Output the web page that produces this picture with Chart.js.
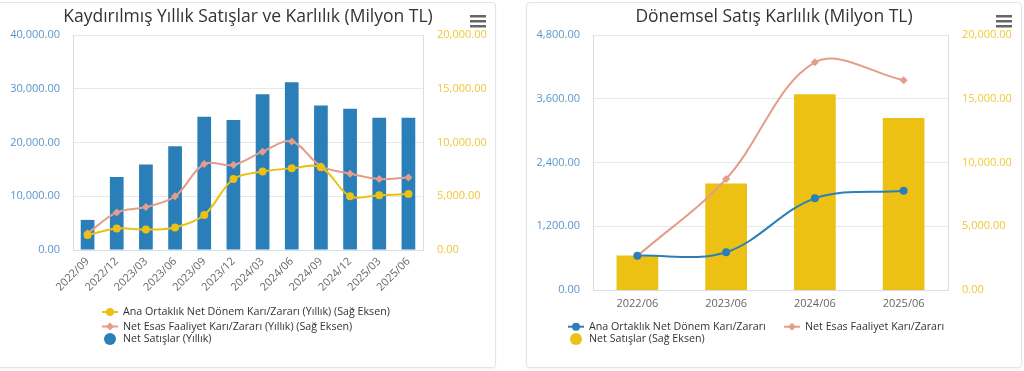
<!DOCTYPE html>
<html>
<head>
<meta charset="utf-8">
<script src="https://cdn.jsdelivr.net/npm/chart.js@4/dist/chart.umd.min.js"></script>
<style>
    html, body { margin: 0; padding: 0; background: #fff; width: 1024px; height: 371px; overflow: hidden; }
    .panel { position: absolute; top: 2px; height: 364px; border: 1px solid #e4e4e4; border-radius: 4px; box-shadow: 0 1px 2px rgba(0, 0, 0, 0.06); background: #fff; }
    #panelLeft { left: -3px; width: 497px; }
    #panelRight { left: 526px; width: 494px; }
    canvas { position: absolute; top: 0; }
    #salesTtmChart { left: 0; }
    #salesYearChart { left: 524px; }
</style>
</head>
<body>
<div class="panel" id="panelLeft"></div>
<div class="panel" id="panelRight"></div>
<canvas id="salesTtmChart" width="496" height="371"></canvas>
<canvas id="salesYearChart" width="500" height="371"></canvas>
<script>
// Kaydırılmış yıllık (TTM) veriler, milyon TL
var quarterLabels = [ '2022/09', '2022/12', '2023/03', '2023/06', '2023/09', '2023/12', '2024/03', '2024/06', '2024/09', '2024/12', '2025/03', '2025/06' ];
var netSalesTtm = [ 5600, 13600, 15900, 19300, 24800, 24200, 29000, 31200, 26900, 26300, 24600, 24600 ];
var netProfitTtm = [ 1400, 2000, 1900, 2100, 3250, 6600, 7300, 7600, 7700, 5000, 5100, 5200 ];
var operatingProfitTtm = [ 1550, 3500, 4000, 5000, 8000, 7900, 9150, 10100, 7800, 7100, 6600, 6750 ];

// Dönemsel veriler, milyon TL
var periodLabels = [ '2022/06', '2023/06', '2024/06', '2025/06' ];
var netSalesPeriod = [ 2700, 8350, 15350, 13500 ];
var netProfitPeriod = [ 645, 710, 1725, 1870 ];
var operatingProfitPeriod = [ 640, 2090, 4285, 3950 ];

var leftTickTtm = { min: 0, max: 40000, step: 10000 };
var rightTickTtm = { min: 0, max: 20000, step: 5000 };
var leftTickPeriod = { min: 0, max: 4800, step: 1200 };
var rightTickPeriod = { min: 0, max: 20000, step: 5000 };

var FONT = '"Open Sans", "DejaVu Sans", sans-serif';
var BLUE = '#2a7fb9';
var YELLOW = '#ecc113';
var PINK = '#e59d8b';
var GRID = '#e8e8e8';
var PLOT_BORDER = '#d6deec';

function formatNumber ( value )
{
    return Number( value ).toLocaleString( 'en-US', { minimumFractionDigits: 2, maximumFractionDigits: 2 } );
}

// Title, export-menu icon and legend, drawn like the original panels
var panelDecor = {
    id: 'panelDecor',
    afterDraw: function ( chart, args, opts )
    {
        var ctx = chart.ctx;
        ctx.save();

        ctx.font = '17.5px ' + FONT;
        ctx.fillStyle = '#333333';
        ctx.textAlign = 'center';
        ctx.textBaseline = 'middle';
        ctx.fillText( opts.title, opts.titleX, 17 );

        // hamburger
        ctx.fillStyle = '#666666';
        for ( var i = 0; i < 3; i++ )
        {
            ctx.fillRect( opts.menuX, 15 + i * 5, 16, 2.5 );
        }

        ctx.font = '10.7px ' + FONT;
        ctx.textAlign = 'left';
        opts.legend.forEach( function ( item )
        {
            var ds = chart.data.datasets[ item.index ];
            var color = ds.type === 'line' ? ds.borderColor : ds.backgroundColor;
            if ( ds.type === 'line' )
            {
                ctx.strokeStyle = color;
                ctx.lineWidth = 2;
                ctx.beginPath();
                ctx.moveTo( item.x - 8, item.y );
                ctx.lineTo( item.x + 8, item.y );
                ctx.stroke();
                ctx.fillStyle = color;
                ctx.beginPath();
                if ( ds.pointStyle === 'rectRot' )
                {
                    ctx.moveTo( item.x, item.y - 4 );
                    ctx.lineTo( item.x + 4, item.y );
                    ctx.lineTo( item.x, item.y + 4 );
                    ctx.lineTo( item.x - 4, item.y );
                    ctx.closePath();
                }
                else
                {
                    ctx.arc( item.x, item.y, 4, 0, Math.PI * 2 );
                }
                ctx.fill();
            }
            else
            {
                ctx.fillStyle = color;
                ctx.beginPath();
                ctx.arc( item.x, item.y, 6, 0, Math.PI * 2 );
                ctx.fill();
            }
            ctx.fillStyle = '#333333';
            ctx.fillText( ds.label, item.x + 13, item.y );
        } );

        ctx.restore();
    }
};

function axisTicks ( color, padding )
{
    return {
        color: color,
        padding: padding,
        font: { family: FONT, size: 11 },
        callback: function ( value ) { return formatNumber( value ); }
    };
}

function buildChart ( canvasId, cfg )
{
    var canvas = document.getElementById( canvasId );
    return new Chart( canvas.getContext( '2d' ), {
        type: 'bar',
        data: { labels: cfg.labels, datasets: cfg.datasets },
        options: {
            responsive: false,
            animation: false,
            events: [],
            layout: { padding: { top: 35, bottom: cfg.bottomPad, left: 0, right: 0 } },
            plugins: {
                legend: { display: false },
                tooltip: { enabled: false },
                panelDecor: cfg.decor
            },
            scales: {
                x: {
                    offset: true,
                    grid: { display: false, drawTicks: false },
                    border: { color: PLOT_BORDER },
                    ticks: {
                        color: '#666666',
                        font: { family: FONT, size: 11 },
                        padding: cfg.xPad,
                        autoSkip: false,
                        minRotation: cfg.rotation,
                        maxRotation: cfg.rotation
                    },
                    afterFit: function ( scale ) { scale.height = cfg.xHeight; }
                },
                yLeft: {
                    position: 'left',
                    min: cfg.leftTick.min,
                    max: cfg.leftTick.max,
                    grid: { color: GRID, drawTicks: false },
                    border: { color: PLOT_BORDER },
                    ticks: Object.assign( axisTicks( '#5995cf', 13 ), { stepSize: cfg.leftTick.step } ),
                    afterFit: function ( scale ) { scale.width = cfg.leftWidth; }
                },
                yRight: {
                    position: 'right',
                    min: cfg.rightTick.min,
                    max: cfg.rightTick.max,
                    grid: { display: false, drawTicks: false },
                    border: { color: PLOT_BORDER },
                    ticks: Object.assign( axisTicks( '#f1c636', 14 ), { stepSize: cfg.rightTick.step } ),
                    afterFit: function ( scale ) { scale.width = cfg.rightWidth; }
                }
            }
        },
        plugins: [ panelDecor ]
    } );
}

document.addEventListener( 'DOMContentLoaded', function ()
{
    buildChart( 'salesTtmChart', {
        labels: quarterLabels,
        leftTick: leftTickTtm,
        rightTick: rightTickTtm,
        leftWidth: 73,
        rightWidth: 73,
        xHeight: 62,
        xPad: 5,
        rotation: 45,
        bottomPad: 59,
        datasets: [
            {
                type: 'line', label: 'Ana Ortaklık Net Dönem Karı/Zararı (Yıllık) (Sağ Eksen)',
                data: netProfitTtm, yAxisID: 'yRight', order: 1,
                borderColor: YELLOW, backgroundColor: YELLOW, borderWidth: 2, tension: 0.35,
                pointStyle: 'circle', pointRadius: 4, pointBorderWidth: 0
            },
            {
                type: 'line', label: 'Net Esas Faaliyet Karı/Zararı (Yıllık) (Sağ Eksen)',
                data: operatingProfitTtm, yAxisID: 'yRight', order: 2,
                borderColor: PINK, backgroundColor: PINK, borderWidth: 2, tension: 0.35,
                pointStyle: 'rectRot', pointRadius: 4, pointBorderWidth: 0
            },
            {
                type: 'bar', label: 'Net Satışlar (Yıllık)',
                data: netSalesTtm, yAxisID: 'yLeft', order: 3,
                backgroundColor: BLUE, categoryPercentage: 1, barPercentage: 0.47
            }
        ],
        decor: {
            title: 'Kaydırılmış Yıllık Satışlar ve Karlılık (Milyon TL)',
            titleX: 248,
            menuX: 470,
            legend: [
                { index: 0, x: 110, y: 312 },
                { index: 1, x: 110, y: 326.5 },
                { index: 2, x: 110, y: 339 }
            ]
        }
    } );

    buildChart( 'salesYearChart', {
        labels: periodLabels,
        leftTick: leftTickPeriod,
        rightTick: rightTickPeriod,
        leftWidth: 69,
        rightWidth: 76,
        xHeight: 30,
        xPad: 7,
        rotation: 0,
        bottomPad: 51,
        datasets: [
            {
                type: 'line', label: 'Ana Ortaklık Net Dönem Karı/Zararı',
                data: netProfitPeriod, yAxisID: 'yLeft', order: 1,
                borderColor: BLUE, backgroundColor: BLUE, borderWidth: 2, tension: 0.35,
                pointStyle: 'circle', pointRadius: 4, pointBorderWidth: 0
            },
            {
                type: 'line', label: 'Net Esas Faaliyet Karı/Zararı',
                data: operatingProfitPeriod, yAxisID: 'yLeft', order: 2,
                borderColor: PINK, backgroundColor: PINK, borderWidth: 2, tension: 0.35,
                pointStyle: 'rectRot', pointRadius: 4, pointBorderWidth: 0
            },
            {
                type: 'bar', label: 'Net Satışlar (Sağ Eksen)',
                data: netSalesPeriod, yAxisID: 'yRight', order: 3,
                backgroundColor: YELLOW, categoryPercentage: 1, barPercentage: 0.47
            }
        ],
        decor: {
            title: 'Dönemsel Satış Karlılık (Milyon TL)',
            titleX: 250,
            menuX: 472,
            legend: [
                { index: 0, x: 52, y: 326.7 },
                { index: 1, x: 268, y: 326.7 },
                { index: 2, x: 52, y: 339 }
            ]
        }
    } );
} );
</script>
</body>
</html>
